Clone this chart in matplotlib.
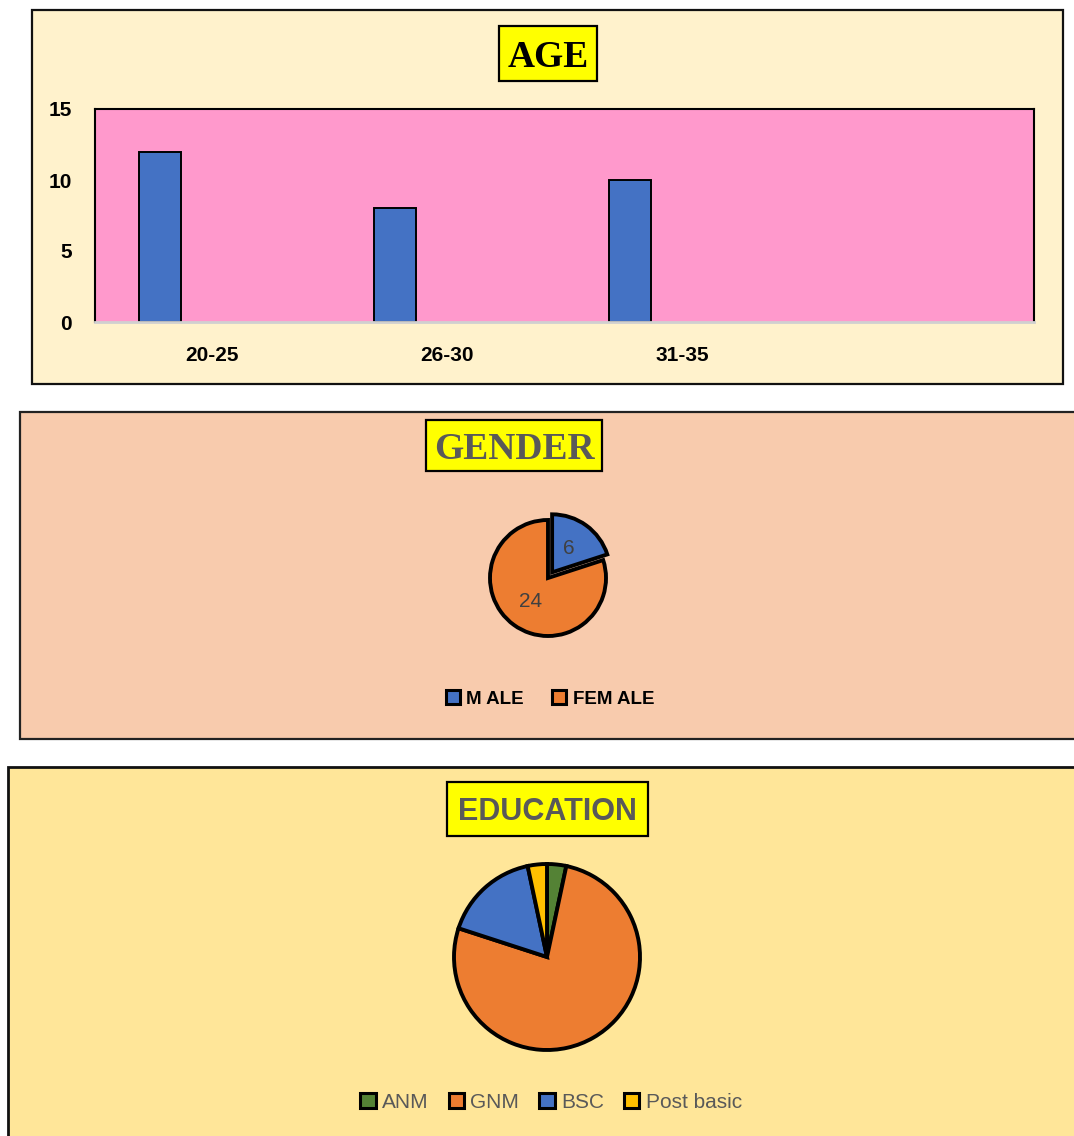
import matplotlib
matplotlib.use("Agg")
import matplotlib.pyplot as plt
from matplotlib.patches import Rectangle, Patch

# ---------------- data ----------------
age_groups = ["20-25", "26-30", "31-35", ""]
age_counts = [12, 8, 10, 0]
age_yticks = [0, 5, 10, 15]

gender_labels = ["M ALE", "FEM ALE"]
gender_counts = [6, 24]

edu_labels = ["ANM", "GNM", "BSC", "Post basic"]
edu_counts = [1, 23, 5, 1]

# ---------------- styling ----------------
W, H = 1074, 1136
BLUE = "#4472C4"
ORANGE = "#ED7D31"
GREEN = "#548235"
GOLD = "#FFC000"
SANS = ["Liberation Sans", "DejaVu Sans"]
SERIF = ["Liberation Serif", "DejaVu Serif"]

fig = plt.figure(figsize=(W / 100, H / 100), dpi=100)
fig.patch.set_facecolor("white")


def fx(x):
    return x / W


def fy(y):
    return 1 - y / H


def rect_px(x0, y0, x1, y1, z=-5, **kw):
    r = Rectangle((fx(x0), fy(y1)), fx(x1) - fx(x0), fy(y0) - fy(y1),
                  transform=fig.transFigure, figure=fig, zorder=z, **kw)
    fig.patches.append(r)
    return r


def axes_px(x0, y0, x1, y1, **kw):
    a = fig.add_axes([fx(x0), fy(y1), fx(x1) - fx(x0), fy(y0) - fy(y1)], **kw)
    a.set_zorder(1)
    return a


# panel backgrounds
rect_px(32, 10, 1063, 384, facecolor="#FFF2CC", edgecolor="#111111", linewidth=1.6)
rect_px(20, 412, 1080, 739, facecolor="#F8CBAD", edgecolor="#222222", linewidth=1.6)
rect_px(8, 767, 1080, 1145, facecolor="#FFE699", edgecolor="#111111", linewidth=2.0)

# title boxes
def title_box(x0, y0, x1, y1, text, color, family, size):
    rect_px(x0, y0, x1, y1, z=2, facecolor="#FFFF00", edgecolor="black", linewidth=1.6)
    fig.text(fx((x0 + x1) / 2), fy((y0 + y1) / 2), text, ha="center", va="center_baseline",
             color=color, family=family, fontweight="bold", fontsize=size, zorder=3)

title_box(499, 26, 597, 81, "AGE", "black", SERIF, 27)
title_box(426, 420, 602, 471, "GENDER", "#595959", SERIF, 27)
title_box(447, 782, 648, 836, "EDUCATION", "#595959", SANS, 22)

# ---------------- AGE bar chart ----------------
ax = axes_px(95, 109, 1034, 322)
ax.set_facecolor("#FF99CC")
xs = list(range(len(age_groups)))
bx = [x - 0.223 for x, v in zip(xs, age_counts) if v > 0]
bv = [v for v in age_counts if v > 0]
ax.bar(bx, bv, width=0.179, color=BLUE, edgecolor="black", linewidth=1.4, zorder=3)
ax.set_xlim(-0.5, len(age_groups) - 0.5)
ax.set_ylim(0, 15)
ax.set_yticks(age_yticks)
ax.set_xticks(xs)
ax.set_xticklabels(age_groups)
for s in ["top", "left", "right"]:
    ax.spines[s].set_color("black")
    ax.spines[s].set_linewidth(1.5)
ax.spines["bottom"].set_color("#D0D0D0")
ax.spines["bottom"].set_linewidth(2)
ax.spines["bottom"].set_zorder(4)
ax.tick_params(axis="both", length=0)
ax.tick_params(axis="y", pad=16.5)
ax.tick_params(axis="x", pad=17.5)
for lab in ax.get_xticklabels() + ax.get_yticklabels():
    lab.set_fontfamily(SANS)
    lab.set_fontweight("bold")
    lab.set_fontsize(15)
    lab.set_color("black")

# ---------------- GENDER pie ----------------
S = 90
axg = axes_px(548 - S, 578 - S, 548 + S, 578 + S)
axg.set_aspect("equal")
axg.axis("off")
axg.pie(
    gender_counts, colors=[BLUE, ORANGE], startangle=90, counterclock=False,
    radius=58, explode=[7, 0],
    autopct=lambda p: f"{p * sum(gender_counts) / 100:.0f}",
    pctdistance=0.5, wedgeprops=dict(edgecolor="black", linewidth=2.8),
    textprops=dict(color="#404040", fontsize=15, family=SANS))
axg.set_xlim(-S, S)
axg.set_ylim(-S, S)

fig.legend(handles=[Patch(facecolor=c, edgecolor="black", linewidth=2.2) for c in [BLUE, ORANGE]],
           labels=gender_labels, loc="center", bbox_to_anchor=(fx(550), fy(699)),
           ncol=2, frameon=False, handlelength=0.75, handleheight=0.75,
           handletextpad=0.35, columnspacing=1.5,
           prop=dict(family=SANS, weight="bold", size=13.5))

# ---------------- EDUCATION pie ----------------
S2 = 115
axe = axes_px(547 - S2, 957 - S2, 547 + S2, 957 + S2)
axe.set_aspect("equal")
axe.axis("off")
axe.pie(edu_counts, colors=[GREEN, ORANGE, BLUE, GOLD], startangle=90,
        counterclock=False, radius=93,
        wedgeprops=dict(edgecolor="black", linewidth=2.8))
axe.set_xlim(-S2, S2)
axe.set_ylim(-S2, S2)

fig.legend(handles=[Patch(facecolor=c, edgecolor="black", linewidth=2.2)
                    for c in [GREEN, ORANGE, BLUE, GOLD]],
           labels=edu_labels, loc="center", bbox_to_anchor=(fx(551), fy(1102)),
           ncol=4, frameon=False, handlelength=0.75, handleheight=0.75,
           handletextpad=0.3, columnspacing=0.95,
           prop=dict(family=SANS, size=15), labelcolor="#595959")

fig.savefig("out.png", dpi=100, facecolor="white")
